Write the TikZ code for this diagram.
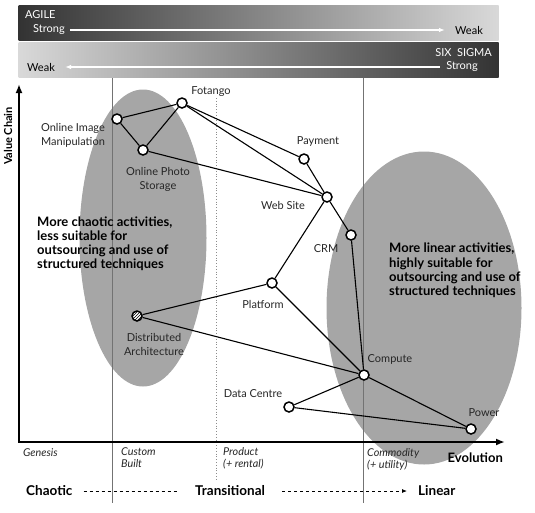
\documentclass[tikz,border=0pt]{standalone}
\usepackage{fontspec}
\setmainfont{Lato}
\usetikzlibrary{arrows.meta, patterns, shapes.geometric}

\begin{document}
\begin{tikzpicture}[
  x=1pt, y=-1pt,
  comp/.style={circle, draw, line width=1.5pt, fill=white, minimum size=10pt, inner sep=0pt},
  lbl/.style={font=\fontsize{11}{14}\selectfont, align=center, text=black!85},
  stagelbl/.style={font=\fontsize{10.8}{12.5}\selectfont\itshape, align=left, anchor=north west, inner sep=0pt, text=black!85},
  note/.style={font=\fontsize{13}{14.2}\selectfont\bfseries, align=left, anchor=north west, inner sep=0pt},
  scalelbl/.style={font=\fontsize{13.5}{14}\selectfont\bfseries, anchor=west, inner sep=0pt},
  bar/.style={minimum width=480pt, minimum height=35pt, inner sep=0pt, anchor=north west},
  barlbl/.style={font=\fontsize{11}{12}\selectfont, inner sep=0pt},
  bararrow/.style={-{Latex[length=6pt,width=4.5pt]}, white, line width=1.3pt},
  link/.style={line width=1.1pt},
  axis/.style={-{Latex[length=9pt,width=7pt]}, line width=1.8pt},
  stage/.style={black!55, line width=0.8pt},
  blob/.style={fill=black!35, draw=none}
]
\useasboundingbox (0,0) rectangle (535,512);

% method bars
\node[bar, left color=black!80, right color=black!15] (agile) at (18.5,5) {};
\node[bar, left color=black!15, right color=black!80] (sixsigma) at (18.5,42.5) {};
\node[barlbl, white, anchor=west] (agilename) at (25,15) {AGILE};
\node[barlbl, white, anchor=west] (agilestrong) at (33,30) {Strong};
\node[barlbl, anchor=west] (agileweak) at (455,30) {Weak};
\draw[bararrow] ([xshift=5pt]agilestrong.east) -- ([xshift=-10pt]agileweak.west);
\node[barlbl, white, anchor=east] (signame) at (492,53) {SIX\enspace SIGMA};
\node[barlbl, white, anchor=east] (sigstrong) at (478,67) {Strong};
\node[barlbl, anchor=west] (sigweak) at (27,67) {Weak};
\draw[bararrow] ([xshift=-6pt]sigstrong.west) -- ([xshift=10pt]sigweak.east);

% clusters
\node[blob, ellipse, minimum width=127pt, minimum height=297pt] (chaoticblob) at (143,238) {};
\node[blob, ellipse, minimum width=195pt, minimum height=313pt] (linearblob) at (424,308) {};

% stage lines
\coordinate (custtop) at (112,78);
\coordinate (custbot) at (112,503);
\coordinate (commtop) at (363,78);
\coordinate (commbot) at (363,503);
\coordinate (prodtop) at (216,98);
\coordinate (prodbot) at (216,480);
\draw[stage] (custtop) -- (custbot);
\draw[stage] (commtop) -- (commbot);
\draw[black!45, line width=0.8pt, dotted] (prodtop) -- (prodbot);

% axes
\coordinate (origin) at (19,442);
\coordinate (vtop) at (19,84);
\coordinate (htip) at (505,442);
\draw[axis] (origin) -- (vtop);
\draw[axis] ([xshift=-0.9pt]origin) -- (htip);
\node[font=\fontsize{11}{12}\selectfont\bfseries, rotate=90] (valuechain) at (8,136) {Value Chain};
\node[font=\fontsize{13}{14}\selectfont\bfseries, anchor=east, inner sep=0pt] (evolution) at (503,458) {Evolution};

% components
\node[comp] (fotango) at (182,103) {};
\node[comp] (imgmanip) at (117,119) {};
\node[comp] (photostore) at (143,150) {};
\node[comp] (payment) at (304,159) {};
\node[comp] (website) at (327,197) {};
\node[comp] (crm) at (351,235) {};
\node[comp] (platform) at (272,283) {};
\node[comp, preaction={fill=white}, pattern=north east lines] (distarch) at (137,316) {};
\node[comp] (compute) at (364,375) {};
\node[comp] (datacentre) at (289,407) {};
\node[comp] (power) at (471,429) {};

\draw[link] (fotango) -- (imgmanip);
\draw[link] (fotango) -- (photostore);
\draw[link] (imgmanip) -- (photostore);
\draw[link] (fotango) -- (payment);
\draw[link] (fotango) -- (website);
\draw[link] (photostore) -- (website);
\draw[link] (payment) -- (website);
\draw[link] (website) -- (crm);
\draw[link] (website) -- (platform);
\draw[link] (crm) -- (compute);
\draw[link] (platform) -- (compute);
\draw[link] (platform) -- (distarch);
\draw[link] (distarch) -- (compute);
\draw[link] (compute) -- (datacentre);
\draw[link] (compute) -- (power);
\draw[link] (datacentre) -- (power);

% component labels
\node[lbl] (fotangolbl) at (211,92) {Fotango};
\node[lbl] (imgmaniplbl) at (73,135) {Online Image\\Manipulation};
\node[lbl] (photostorelbl) at (158,179) {Online Photo\\Storage};
\node[lbl] (paymentlbl) at (318,141) {Payment};
\node[lbl] (websitelbl) at (283,205) {Web Site};
\node[lbl] (crmlbl) at (326,249) {CRM};
\node[lbl] (platformlbl) at (263,304) {Platform};
\node[lbl] (distarchlbl) at (154,344) {Distributed\\Architecture};
\node[lbl] (computelbl) at (390,359) {Compute};
\node[lbl] (datacentrelbl) at (253,394) {Data Centre};
\node[lbl] (powerlbl) at (484,413) {Power};

% notes
\node[note] (chaoticnote) at (37,216.5) {More chaotic activities,\\less suitable for\\outsourcing and use of\\structured techniques};
\node[note] (linearnote) at (389,243) {More linear activities,\\highly suitable for\\outsourcing and use of\\structured techniques};

% stage names
\node[stagelbl] (genesis) at (23,448) {Genesis};
\node[stagelbl] (custom) at (121,447) {Custom\\Built};
\node[stagelbl] (product) at (223,447) {Product\\(+ rental)};
\node[stagelbl] (commodity) at (367,448) {Commodity\\(+ utility)};

% bottom scale
\node[scalelbl] (chaotic) at (26,491) {Chaotic};
\node[scalelbl] (transitional) at (195,491) {Transitional};
\node[scalelbl] (linear) at (418,491) {Linear};
\draw[dashed, line width=0.8pt] ([xshift=11pt]chaotic.east) -- ([xshift=-17pt]transitional.west);
\draw[dashed, line width=0.8pt, -{Latex[length=5pt,width=4pt]}] ([xshift=17pt]transitional.east) -- ([xshift=-11pt]linear.west);
\end{tikzpicture}
\end{document}
